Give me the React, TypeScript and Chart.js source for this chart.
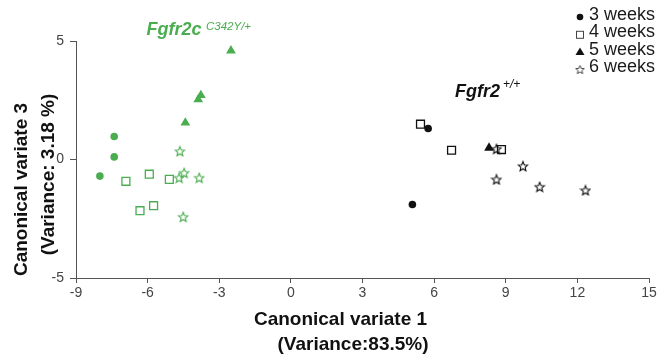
import { useEffect, useRef } from 'react';
import { Chart, registerables } from 'chart.js';

Chart.register(...registerables);

// ---- data (canonical variate 1 = x, canonical variate 3 = y) ----
const mut3wX = [-8.0, -7.4, -7.4];
const mut3wY = [-0.7, 0.97, 0.11];
const mut4wX = [-6.91, -5.93, -5.09, -6.32, -5.75];
const mut4wY = [-0.92, -0.62, -0.84, -2.16, -1.95];
const mut5wX = [-2.51, -3.77, -3.88, -4.42];
const mut5wY = [4.59, 2.71, 2.53, 1.55];
const mut6wX = [-4.65, -4.47, -4.68, -3.84, -4.51];
const mut6wY = [0.35, -0.56, -0.77, -0.77, -2.42];

const wt3wX = [5.75, 5.09];
const wt3wY = [1.31, -1.9];
const wt4wX = [5.43, 6.73, 8.82];
const wt4wY = [1.49, 0.39, 0.42];
const wt5wX = [8.3];
const wt5wY = [0.49];
const wt6wX = [8.61, 9.72, 8.61, 10.42, 12.34];
const wt6wY = [0.45, -0.28, -0.84, -1.15, -1.3];

const legendLabels = ['3 weeks', '4 weeks', '5 weeks', '6 weeks'];
const xTicks = { min: -9, max: 15, step: 3 };
const yTicks = { min: -5, max: 5, step: 5 };

const GREEN = '#4aad4f';
const BLACK = '#111111';
const FONT = '"Liberation Sans", Arial, sans-serif';

const pts = (xs: number[], ys: number[]) => xs.map((x, i) => ({ x, y: ys[i] }));

function makeStar(color: string, size: number, lw = 1.1) {
  const c = document.createElement('canvas');
  c.width = size;
  c.height = size;
  const ctx = c.getContext('2d')!;
  const cx = size / 2;
  const cy = size / 2 + 0.5;
  const R = size / 2 - 1;
  const r = R * 0.45;
  ctx.beginPath();
  for (let i = 0; i < 10; i++) {
    const rad = i % 2 === 0 ? R : r;
    const a = -Math.PI / 2 + (i * Math.PI) / 5;
    const px = cx + rad * Math.cos(a);
    const py = cy + rad * Math.sin(a);
    if (i === 0) ctx.moveTo(px, py);
    else ctx.lineTo(px, py);
  }
  ctx.closePath();
  ctx.strokeStyle = color;
  ctx.lineWidth = lw;
  ctx.stroke();
  return c;
}

export default function App() {
  const ref = useRef<HTMLCanvasElement>(null);

  useEffect(() => {
    if (!ref.current) return;
    const starG = makeStar(GREEN, 12);
    const starK = makeStar(BLACK, 12);
    const starL = makeStar('#444', 11, 1);

    const series = (
      xs: number[],
      ys: number[],
      color: string,
      kind: 'circle' | 'rect' | 'triangle' | 'star'
    ) => {
      const base: any = { data: pts(xs, ys), showLine: false };
      if (kind === 'circle')
        return { ...base, pointStyle: 'circle', pointRadius: 3.8, backgroundColor: color, borderColor: color, borderWidth: 0 };
      if (kind === 'rect')
        return { ...base, pointStyle: 'rect', pointRadius: 5.6, backgroundColor: 'rgba(255,255,255,0)', borderColor: color, borderWidth: 1.3 };
      if (kind === 'triangle')
        return { ...base, pointStyle: 'triangle', pointRadius: 5.6, backgroundColor: color, borderColor: color, borderWidth: 0 };
      return { ...base, pointStyle: color === GREEN ? starG : starK, pointRadius: 6, backgroundColor: 'transparent', borderColor: color };
    };

    const datasets = [
      series(mut3wX, mut3wY, GREEN, 'circle'),
      series(mut4wX, mut4wY, GREEN, 'rect'),
      series(mut5wX, mut5wY, GREEN, 'triangle'),
      series(mut6wX, mut6wY, GREEN, 'star'),
      series(wt3wX, wt3wY, BLACK, 'circle'),
      series(wt6wX, wt6wY, BLACK, 'star'),
      series(wt5wX, wt5wY, BLACK, 'triangle'),
      series(wt4wX, wt4wY, BLACK, 'rect'),
    ];

    const textPlugin = {
      id: 'texts',
      afterDraw(chart: any) {
        const ctx = chart.ctx as CanvasRenderingContext2D;
        ctx.save();
        // axis titles
        ctx.fillStyle = '#111';
        ctx.textAlign = 'center';
        ctx.textBaseline = 'middle';
        ctx.font = `bold 19px ${FONT}`;
        ctx.fillText('Canonical variate 1', 340.5, 320);
        ctx.fillText('(Variance:83.5%)', 353, 345);
        ctx.save();
        ctx.translate(21.7, 189.5);
        ctx.rotate(-Math.PI / 2);
        ctx.fillText('Canonical variate 3', 0, 0);
        ctx.restore();
        ctx.save();
        ctx.translate(49, 174.5);
        ctx.rotate(-Math.PI / 2);
        ctx.fillText('(Variance: 3.18 %)', 0, 0);
        ctx.restore();

        // group labels
        ctx.textAlign = 'left';
        ctx.textBaseline = 'alphabetic';
        ctx.fillStyle = GREEN;
        ctx.font = `italic bold 18px ${FONT}`;
        ctx.fillText('Fgfr2c', 146.5, 34.5);
        ctx.font = `italic 11.5px ${FONT}`;
        ctx.fillText('C342Y/+', 206, 30);
        ctx.fillStyle = BLACK;
        ctx.font = `italic bold 18px ${FONT}`;
        ctx.fillText('Fgfr2', 455, 97);
        ctx.font = `italic 12px ${FONT}`;
        ctx.fillText('+/+', 503, 88);

        // legend
        const rows = [15, 32.3, 50, 67.5];
        const mx = 580;
        ctx.fillStyle = '#111';
        ctx.strokeStyle = '#444';
        // circle
        ctx.beginPath();
        ctx.arc(mx, rows[0] + 2, 3.3, 0, Math.PI * 2);
        ctx.fill();
        // square
        ctx.lineWidth = 1;
        ctx.strokeRect(mx - 3.5, rows[1] - 1, 7, 7);
        // triangle
        ctx.beginPath();
        ctx.moveTo(mx, rows[2] - 2.5);
        ctx.lineTo(mx + 4.5, rows[2] + 5);
        ctx.lineTo(mx - 4.5, rows[2] + 5);
        ctx.closePath();
        ctx.fill();
        // star
        ctx.drawImage(starL, mx - 5.5, rows[3] - 3.5);

        ctx.fillStyle = '#1a1a1a';
        ctx.font = `18px ${FONT}`;
        ctx.textBaseline = 'middle';
        legendLabels.forEach((t, i) => ctx.fillText(t, 589, rows[i]));
        ctx.restore();
      },
    };

    const chart = new Chart(ref.current, {
      type: 'scatter',
      data: { datasets },
      options: {
        responsive: false,
        animation: false,
        devicePixelRatio: 1,
        layout: { padding: { top: 41, right: 12, left: 0, bottom: 0 } },
        plugins: { legend: { display: false }, tooltip: { enabled: false } },
        scales: {
          x: {
            type: 'linear',
            min: xTicks.min,
            max: xTicks.max,
            ticks: {
              stepSize: xTicks.step,
              color: '#444',
              font: { size: 14, family: FONT },
              padding: 2,
              maxRotation: 0,
              autoSkip: false,
            },
            grid: { drawOnChartArea: false, drawTicks: true, tickLength: 5, color: '#555' },
            border: { color: '#555', width: 1 },
            afterFit: (s: any) => {
              s.height = 85;
            },
          },
          y: {
            type: 'linear',
            min: yTicks.min,
            max: yTicks.max,
            ticks: {
              stepSize: yTicks.step,
              color: '#444',
              font: { size: 14, family: FONT },
              padding: 6,
            },
            grid: { drawOnChartArea: false, drawTicks: true, tickLength: 6, color: '#555' },
            border: { color: '#555', width: 1 },
            afterFit: (s: any) => {
              s.width = 76;
            },
          },
        },
      } as any,
      plugins: [textPlugin],
    });
    return () => chart.destroy();
  }, []);

  return (
    <div style={{ position: 'fixed', left: 0, top: 0, width: 661, height: 363, background: '#fff' }}>
      <canvas ref={ref} width={661} height={363} style={{ display: 'block' }} />
    </div>
  );
}
